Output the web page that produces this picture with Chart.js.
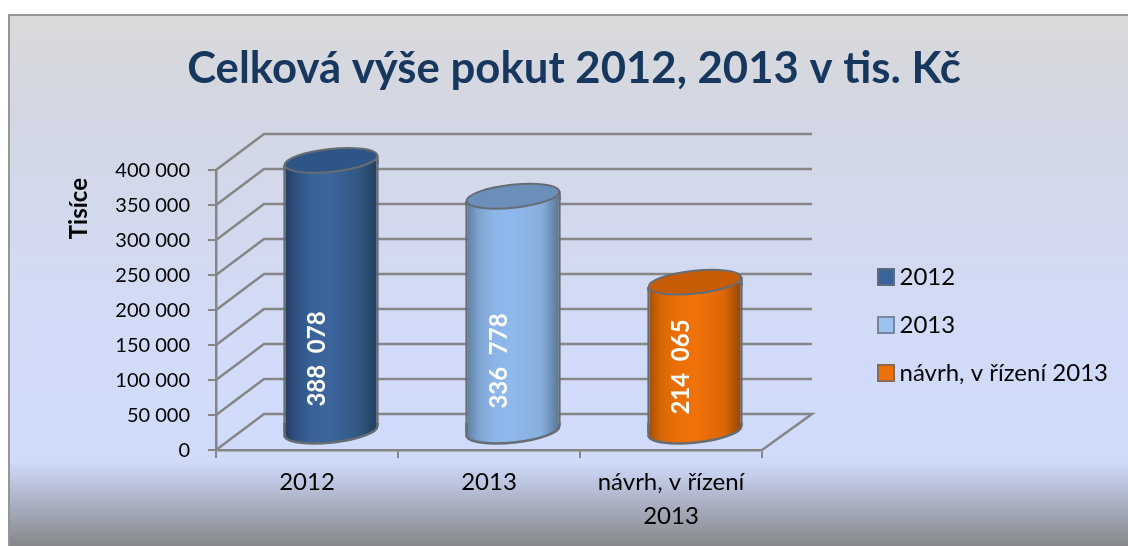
<!DOCTYPE html>
<html lang="cs">
<head>
<meta charset="utf-8">
<title>Celková výše pokut</title>
<style>html,body{margin:0;padding:0;background:#fff}canvas{display:block}</style>
<script src="https://cdn.jsdelivr.net/npm/chart.js@4"></script>
</head>
<body>
<canvas id="c" width="1128" height="546"></canvas>
<script>
const chartTitle = 'Celková výše pokut 2012, 2013 v tis. Kč';
const axisTitle = 'Tisíce';
const categories = ['2012', '2013', 'návrh, v řízení 2013'];
const values = [388078, 336778, 214065];
const legendColors = ['#3a659b', '#9cc3f0', '#ee7008'];
const legendBorders = ['#5d6b80', '#76879b', '#8a6a50'];
const capColors = ['#2d5585', '#6b8fb8', '#c65c06'];
const sideStops = [
  ['#23395b', '#2f5282', '#396398', '#3b659c', '#31567f', '#1f3b5c'],
  ['#5c7a99', '#7ea3d0', '#8cb5e8', '#8fb9ec', '#86aedd', '#55718e'],
  ['#9b4c08', '#d96706', '#ea6e07', '#f17208', '#dd6706', '#8c4508']
];
const labelLift = [90, 88, 82];
const FONT = 'Lato, Carlito, Calibri, sans-serif';
const GREY = '#868686', OUTLINE = '#666c73';
const DEPTH_X = 48, DEPTH_Y = 36, TILT = -6 * Math.PI / 180, CAP_RY = 11.5;
const BAR_PCT = 0.525, EDGE = 2.5;

const fmt = (v, sep) => {
  const s = String(v);
  return s.length > 3 ? s.slice(0, -3) + sep + s.slice(-3) : s;
};

function swatch(fill, border) {
  const c = document.createElement('canvas');
  c.width = 18; c.height = 18;
  const g = c.getContext('2d');
  g.fillStyle = fill; g.fillRect(0, 0, 18, 18);
  g.strokeStyle = border; g.lineWidth = 2; g.strokeRect(1, 1, 16, 16);
  return c;
}

function sideGradient(ctx, cx, w, i) {
  const g = ctx.createLinearGradient(cx - w / 2, 0, cx + w / 2, 0);
  const pos = [0, 0.14, 0.3, 0.5, 0.8, 1];
  sideStops[i].forEach((c, k) => g.addColorStop(pos[k], c));
  return g;
}

const scene = {
  id: 'scene',
  beforeDraw(chart) {
    const { ctx, width, height } = chart;
    const g = ctx.createLinearGradient(0, 14, 0, height);
    g.addColorStop(0, '#d9d9d9');
    g.addColorStop(0.2, '#d3d7e4');
    g.addColorStop(0.6, '#d2dbf8');
    g.addColorStop(0.84, '#d0dbfc');
    g.addColorStop(1, '#86878b');
    ctx.save();
    ctx.fillStyle = g;
    ctx.fillRect(8, 14, width - 8, height - 14);
    ctx.strokeStyle = '#969696';
    ctx.lineWidth = 2;
    ctx.beginPath();
    ctx.moveTo(9, height); ctx.lineTo(9, 15); ctx.lineTo(width, 15);
    ctx.stroke();
    ctx.restore();
  },
  beforeLayout(chart) {
    const lg = chart.legend;
    if (lg && !lg._patched) {
      const fit = lg.fit;
      lg.fit = function () { fit.call(this); this.width = 326; };
      lg._patched = true;
    }
  },
  afterLayout(chart) {
    const lg = chart.legend;
    const p = lg.options.labels.padding;
    lg.left = 884.5 - p;
    lg.right = chart.width;
    lg.top = 265 - p;
    lg.bottom = lg.top + 200;
    const y = chart.scales.y;
    if (!y._patched) {
      const dt = y.drawTitle;
      y.drawTitle = function () {
        const c = this.ctx; c.save(); c.translate(0, 8); dt.apply(this, arguments); c.restore();
      };
      y._patched = true;
    }
  },
  beforeDatasetsDraw(chart) {
    const { ctx, scales: { x, y } } = chart;
    ctx.save();
    ctx.strokeStyle = GREY;
    ctx.lineWidth = 2.5;
    const l = x.left, r = x.right;
    y.ticks.forEach(t => {
      const py = y.getPixelForValue(t.value);
      ctx.beginPath();
      ctx.moveTo(l, py);
      ctx.lineTo(l + DEPTH_X, py - DEPTH_Y);
      ctx.lineTo(r + DEPTH_X + 2, py - DEPTH_Y);
      if (t.value === 0) ctx.lineTo(r, py);
      ctx.stroke();
    });
    ctx.restore();
  },
  beforeDatasetDraw(chart, args) {
    const { ctx } = chart;
    const bars = chart.getDatasetMeta(args.index).data;
    ctx.save();
    ctx.translate(DEPTH_X / 2, -DEPTH_Y / 2);
    bars.forEach((b, i) => {
      const hw = b.width / 2 - EDGE / 2;
      const path = () => {
        ctx.beginPath();
        ctx.moveTo(b.x - hw, b.base - 8);
        ctx.lineTo(b.x - hw, b.base + Math.tan(-TILT) * hw);
        ctx.ellipse(b.x, b.base, hw, CAP_RY, TILT, Math.PI, 0, true);
        ctx.lineTo(b.x + hw, b.base - 8);
      };
      path();
      ctx.fillStyle = sideGradient(ctx, b.x, b.width, i);
      ctx.fill();
      path();
      ctx.strokeStyle = OUTLINE; ctx.lineWidth = EDGE; ctx.stroke();
    });
    ctx.save();
    ctx.beginPath();
    bars.forEach(b => {
      const hw = b.width / 2, dy = Math.tan(-TILT) * hw;
      ctx.moveTo(b.x - hw - 2, b.y + dy);
      ctx.lineTo(b.x + hw + 2, b.y - dy);
      ctx.lineTo(b.x + hw + 2, b.base - dy);
      ctx.lineTo(b.x - hw - 2, b.base + dy);
      ctx.closePath();
    });
    ctx.clip();
  },
  afterDatasetDraw(chart, args) {
    const { ctx } = chart;
    ctx.restore();
    chart.getDatasetMeta(args.index).data.forEach((b, i) => {
      const hw = b.width / 2 - EDGE / 2, dy = Math.tan(-TILT) * hw;
      ctx.beginPath();
      ctx.moveTo(b.x + hw, b.y - dy);
      ctx.lineTo(b.x + hw, b.y + 4);
      ctx.moveTo(b.x - hw, b.y + dy);
      ctx.lineTo(b.x - hw, b.y + dy + 4);
      ctx.strokeStyle = OUTLINE; ctx.lineWidth = EDGE; ctx.stroke();
      ctx.beginPath();
      ctx.ellipse(b.x, b.y, hw, CAP_RY, TILT, 0, Math.PI * 2);
      ctx.fillStyle = capColors[i]; ctx.fill();
      ctx.strokeStyle = OUTLINE; ctx.lineWidth = 2; ctx.stroke();
    });
    ctx.restore();
  },
  afterDatasetsDraw(chart) {
    const { ctx } = chart;
    chart.getDatasetMeta(0).data.forEach((b, i) => {
      ctx.save();
      ctx.translate(b.x + 10, b.base - labelLift[i]);
      ctx.rotate(-Math.PI / 2);
      ctx.font = 'bold 24px ' + FONT;
      ctx.fillStyle = '#ffffff';
      ctx.textAlign = 'center';
      ctx.textBaseline = 'middle';
      ctx.fillText(fmt(values[i], '  '), 0, 0);
      ctx.restore();
    });
  }
};

new Chart(document.getElementById('c'), {
  type: 'bar',
  data: {
    labels: categories,
    datasets: [{
      label: chartTitle,
      data: values,
      categoryPercentage: 1,
      barPercentage: BAR_PCT,
      borderColor: OUTLINE,
      borderWidth: { left: EDGE, right: EDGE, top: 0, bottom: 0 },
      borderSkipped: false,
      backgroundColor(c) {
        const { chart, dataIndex } = c;
        const x = chart.scales.x;
        if (!x || dataIndex === undefined) return legendColors[0];
        const w = x.width / categories.length * BAR_PCT;
        return sideGradient(chart.ctx, x.getPixelForValue(dataIndex), w, dataIndex);
      }
    }]
  },
  options: {
    responsive: false,
    animation: false,
    layout: { padding: { left: 60, right: 40, top: 0, bottom: 0 } },
    plugins: {
      tooltip: { enabled: false },
      title: {
        display: true,
        text: chartTitle,
        color: '#17375e',
        font: { family: FONT, size: 43.7, weight: 'bold', lineHeight: 1 },
        padding: { top: 47, bottom: 79.3 }
      },
      legend: {
        display: true,
        position: 'right',
        align: 'start',
        labels: {
          color: '#000',
          font: { family: FONT, size: 24 },
          usePointStyle: true,
          boxWidth: 3,
          padding: 24,
          generateLabels() {
            return categories.map((t, i) => ({
              text: t,
              fontColor: '#000',
              pointStyle: swatch(legendColors[i], legendBorders[i]),
              index: i
            }));
          }
        }
      }
    },
    scales: {
      x: {
        type: 'category',
        grid: { drawOnChartArea: false, color: GREY, lineWidth: 2, tickLength: 8 },
        border: { color: GREY, width: 2.5 },
        ticks: {
          color: '#000',
          autoSkip: false,
          maxRotation: 0,
          minRotation: 0,
          padding: 7,
          font: { family: FONT, size: 24, lineHeight: 1.417 },
          callback(v) {
            const t = this.getLabelForValue(v);
            return t.length > 10 ? [t.slice(0, t.lastIndexOf(' ')), t.slice(t.lastIndexOf(' ') + 1)] : t;
          }
        },
        afterFit(s) { s.height = 96; }
      },
      y: {
        min: 0,
        max: 400000,
        grid: { drawOnChartArea: false, color: GREY, lineWidth: 2, tickLength: 8 },
        border: { color: GREY, width: 2.5 },
        title: {
          display: true,
          text: axisTitle,
          align: 'end',
          color: '#000',
          font: { family: FONT, size: 24, weight: 'bold', lineHeight: 1 },
          padding: { top: 7, bottom: 0 }
        },
        ticks: {
          color: '#000',
          stepSize: 50000,
          padding: 18,
          labelOffset: 1,
          font: { family: FONT, size: 20 },
          callback: v => fmt(v, ' ')
        },
        afterFit(s) { s.width = 156; }
      }
    }
  },
  plugins: [scene]
});
</script>
</body>
</html>
